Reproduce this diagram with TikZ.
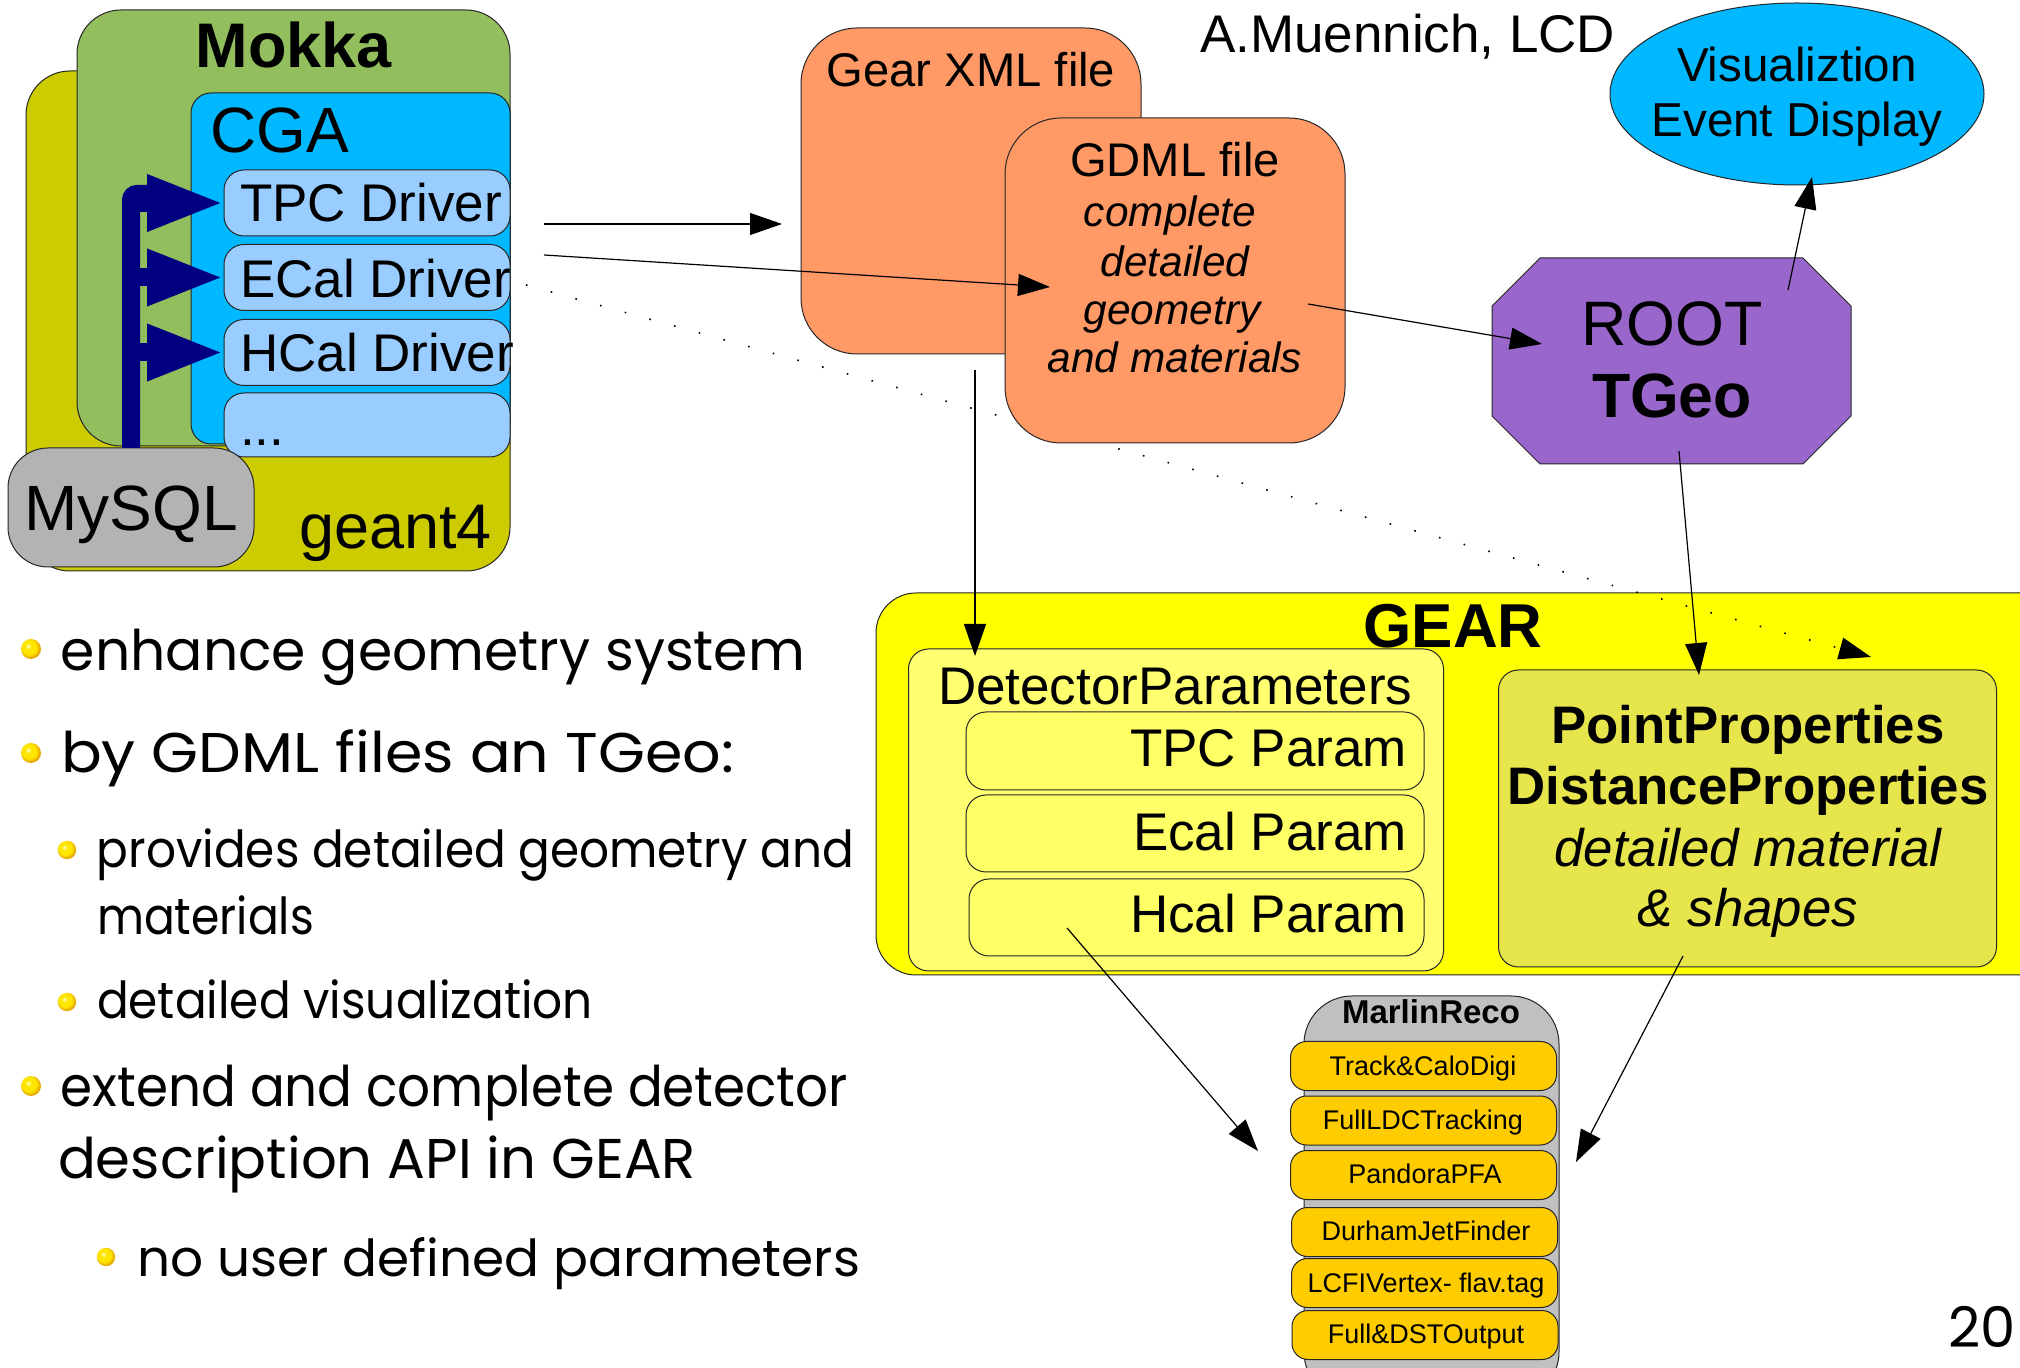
\documentclass[tikz,border=0pt]{standalone}
\usepackage{graphicx}
\usepackage{fontspec}
\setmainfont{Liberation Sans}
\newfontfamily\comic{Poppins}
\usetikzlibrary{arrows.meta,shapes.geometric}
\definecolor{olivefour}{RGB}{204,204,0}
\definecolor{mokkagreen}{RGB}{146,190,94}
\definecolor{skyb}{RGB}{0,184,255}
\definecolor{drvblue}{RGB}{153,204,255}
\definecolor{mysqlgray}{RGB}{179,179,179}
\definecolor{orangebox}{RGB}{255,153,102}
\definecolor{rootpurple}{RGB}{153,102,204}
\definecolor{gearyellow}{RGB}{255,255,0}
\definecolor{detyellow}{RGB}{255,255,112}
\definecolor{paramyellow}{RGB}{255,255,102}
\definecolor{propyellow}{RGB}{230,230,76}
\definecolor{marlingray}{RGB}{192,192,192}
\definecolor{marlinyellow}{RGB}{255,204,0}
\definecolor{navyb}{RGB}{0,0,128}
\definecolor{ballhi}{RGB}{255,255,200}
\definecolor{ballmid}{RGB}{255,230,0}
\definecolor{balllow}{RGB}{230,170,0}
\definecolor{balledge}{RGB}{170,110,0}
\pgfdeclareradialshading{goldball}{\pgfpoint{-8bp}{8bp}}{color(0bp)=(ballhi); color(8bp)=(ballmid); color(18bp)=(ballmid); color(26bp)=(balllow); color(50bp)=(balledge)}
\newcommand{\fsz}[2]{\fontsize{#1}{#2}\selectfont}
\newcommand{\fitw}[2]{\resizebox{#1}{\height}{#2}}
\tikzset{
  box/.style={draw=black!85, line width=0.5pt, inner sep=0pt, outer sep=0pt},
  txt/.style={inner sep=0pt, outer sep=0pt, anchor=base},
  conn/.style={draw=black, line width=0.6pt, -{Triangle[length=16pt,width=11pt]}},
  navyarrow/.style={draw=navyb, line width=9pt, -{Triangle[length=38.5pt,width=26pt]}},
  dotline/.style={draw=black, line width=0.8pt, dash pattern=on 0.8pt off 12pt, -{Triangle[length=16pt,width=11pt]}},
  marlinbox/.style={box, fill=marlinyellow, rounded corners=8pt, minimum width=133pt, minimum height=24.5pt},
  marlintxt/.style={txt, font=\fsz{13.5}{16}},
  bul/.style={shading=goldball},
  btxt/.style={inner sep=0pt, outer sep=0pt, anchor=base west, font=\comic\fsz{28}{32}},
  bsub/.style={inner sep=0pt, outer sep=0pt, anchor=base west, font=\comic\fsz{25.5}{30}}
}
\begin{document}
\begin{tikzpicture}[x=0.5pt,y=-0.5pt]
\useasboundingbox (0,0) rectangle (2020,1368);
\fill[white] (0,0) rectangle (2020,1368);
\clip (0,0) rectangle (2020,1368);

% ---------------- Mokka / geant4 block ----------------
\node[box, fill=olivefour, rounded corners=22pt, minimum width=242pt, minimum height=250pt] (geant) at (268,321) {};
\node[box, fill=mokkagreen, rounded corners=22pt, minimum width=216.5pt, minimum height=218pt] (mokka) at (293.5,228) {};
\node[txt, font=\bfseries\fsz{31.5}{36}] (mokkat) at (294,68) {Mokka};
\node[box, fill=skyb, rounded corners=10pt, minimum width=159.5pt, minimum height=175.5pt] (cga) at (350.5,268.5) {};
\node[txt, anchor=base west, font=\fsz{32}{36}] (cgat) at (210,153) {CGA};
\node[box, fill=drvblue, rounded corners=10pt, minimum width=143pt, minimum height=33pt] (tpc) at (367,203) {};
\node[box, fill=drvblue, rounded corners=10pt, minimum width=143pt, minimum height=33pt] (ecal) at (367,277.5) {};
\node[box, fill=drvblue, rounded corners=10pt, minimum width=143pt, minimum height=33pt] (hcal) at (367,352.5) {};
\node[box, fill=drvblue, rounded corners=10pt, minimum width=143pt, minimum height=32pt] (more) at (367,425) {};
\node[txt, anchor=base west, font=\fsz{26.5}{30}] (tpct) at (240,222) {TPC Driver};
\node[txt, anchor=base west, font=\fsz{26.5}{30}] (ecalt) at (240,298) {ECal Driver};
\node[txt, anchor=base west, font=\fsz{26.5}{30}] (hcalt) at (240,372) {HCal Driver};
\node[txt, anchor=base west, font=\fsz{26.5}{30}] (moret) at (240,446) {...};
\node[txt, anchor=base east, font=\fsz{31.5}{36}] (geantt) at (492,549) {geant4};
\node[box, fill=mysqlgray, rounded corners=20pt, minimum width=123pt, minimum height=59.5pt] (mysql) at (131,507.5) {};
\node[txt, font=\fsz{32}{36}] (mysqlt) at (131,531) {MySQL};

% navy arrows from MySQL to the drivers
\coordinate (bartop) at (131,203);
\draw[draw=navyb, line width=9pt, rounded corners=3pt] (mysql.north -| bartop) -- ([yshift=4.5pt]bartop) -- ([xshift=12pt, yshift=4.5pt]bartop);
\draw[navyarrow] (bartop) -- (tpc.west);
\draw[navyarrow] (bartop |- ecal.west) -- (ecal.west);
\draw[navyarrow] (bartop |- hcal.west) -- (hcal.west);

% ---------------- GEAR ----------------
\node[box, fill=gearyellow, rounded corners=20pt, minimum width=592pt, minimum height=191pt] (gear) at (1468,784) {};
\node[txt, font=\bfseries\fsz{31}{36}] (geart) at (1453,648) {GEAR};
\node[box, fill=detyellow, rounded corners=10pt, minimum width=267.5pt, minimum height=161pt] (det) at (1176,810) {};
\node[txt, anchor=base west, font=\fsz{26.5}{30}] (dett) at (938,705) {DetectorParameters};
\node[box, fill=paramyellow, rounded corners=10pt, minimum width=229pt, minimum height=39pt] (tpcp) at (1195,751) {};
\node[box, fill=paramyellow, rounded corners=10pt, minimum width=229pt, minimum height=38.5pt] (ecalp) at (1195,833.5) {};
\node[box, fill=paramyellow, rounded corners=10pt, minimum width=227.5pt, minimum height=38.5pt] (hcalp) at (1196.5,917.5) {};
\node[txt, anchor=base east, font=\fsz{26.5}{30}] (tpcpt) at (1407,767) {TPC Param};
\node[txt, anchor=base east, font=\fsz{26.5}{30}] (ecalpt) at (1407,851) {Ecal Param};
\node[txt, anchor=base east, font=\fsz{26.5}{30}] (hcalpt) at (1407,933) {Hcal Param};

\node[box, fill=propyellow, rounded corners=10pt, minimum width=249pt, minimum height=148.5pt] (prop) at (1747.5,818.5) {};
\node[txt, font=\bfseries\fsz{26.4}{30}] (prop1) at (1748,744) {PointProperties};
\node[txt, font=\bfseries\fsz{26.4}{30}] (prop2) at (1748,805) {DistanceProperties};
\node[txt, font=\itshape\fsz{26.4}{30}] (prop3) at (1748,867) {detailed material};
\node[txt, font=\itshape\fsz{26.4}{30}] (prop4) at (1748,927) {\& shapes};

% dotted connector (runs behind the GDML box)
\coordinate (g1) at (526,285);   \coordinate (g2) at (1871,657);
\draw[dotline] (g1) -- (g2);

% ---------------- Gear XML / GDML ----------------
\node[box, fill=orangebox, rounded corners=28pt, minimum width=170pt, minimum height=163pt] (gearxml) at (971,191) {};
\node[txt, font=\fsz{23.6}{28}] (gearxmlt) at (971,87) {Gear XML file};
\node[box, fill=orangebox, rounded corners=28pt, minimum width=170pt, minimum height=162.5pt] (gdml) at (1175,280.5) {};
\node[txt, font=\fsz{23.6}{28}] (gdml1) at (1175,177) {GDML file};
\node[txt, font=\itshape\fsz{21.2}{25}] (gdml2) at (1170,227) {complete};
\node[txt, font=\itshape\fsz{21.2}{25}] (gdml3) at (1175,277) { detailed};
\node[txt, font=\itshape\fsz{21.2}{25}] (gdml4) at (1172,325) {geometry};
\node[txt, font=\itshape\fsz{21.2}{25}] (gdml5) at (1175,373) {and materials};

\node[txt, anchor=base west, font=\fsz{26.5}{30}] (author) at (1200,53) {A.Muennich, LCD};

% ---------------- Visualization / ROOT ----------------
\node[draw=black!85, line width=0.5pt, fill=skyb, ellipse, inner sep=0pt, minimum width=187pt, minimum height=91pt] (vis) at (1797,94) {};
\node[txt, font=\fsz{23.8}{28}] (vis1) at (1797,82) {Visualiztion};
\node[txt, font=\fsz{23.8}{28}] (vis2) at (1797,137) {Event Display};

\node[inner sep=0pt, minimum width=179.5pt, minimum height=103pt] (root) at (1671.5,361) {};
\draw[draw=black!85, line width=0.5pt, fill=rootpurple] (1540,258) -- (1803,258) -- (1851,306) -- (1851,416) -- (1803,464) -- (1540,464) -- (1492,416) -- (1492,306) -- cycle;
\node[txt, font=\fsz{31.4}{36}] (root1) at (1672,346) {ROOT};
\node[txt, font=\bfseries\fsz{31.3}{36}] (root2) at (1672,418) {TGeo};

% ---------------- MarlinReco ----------------
\node[box, fill=marlingray, rounded corners=24pt, minimum width=127.5pt, minimum height=202pt] (marlin) at (1431.5,1198) {};
\node[txt, font=\bfseries\fsz{16.5}{20}] (marlint) at (1431,1023) {MarlinReco};
\node[marlinbox] (m1) at (1423.5,1066) {};
\node[marlinbox] (m2) at (1423.5,1120.5) {};
\node[marlinbox] (m3) at (1423.5,1175) {};
\node[marlinbox] (m4) at (1424.5,1232) {};
\node[marlinbox] (m5) at (1424.5,1283) {};
\node[marlinbox] (m6) at (1425,1335) {};
\node[marlintxt] (m1t) at (1423,1075) {Track\&CaloDigi};
\node[marlintxt] (m2t) at (1423,1130) {FullLDCTracking};
\node[marlintxt] (m3t) at (1425,1183) {PandoraPFA};
\node[marlintxt] (m4t) at (1426,1240) {DurhamJetFinder};
\node[marlintxt] (m5t) at (1426,1292) {LCFIVertex- flav.tag};
\node[marlintxt] (m6t) at (1426,1343) {Full\&DSTOutput};

% ---------------- connectors ----------------
\coordinate (a1) at (544,224);   \coordinate (a2) at (782,224);
\coordinate (b1) at (544,255);   \coordinate (b2) at (1050,287);
\coordinate (c1) at (1308,304);  \coordinate (c2) at (1542,344);
\coordinate (d1) at (1788,290);  \coordinate (d2) at (1812,177);
\coordinate (e1) at (975,370);   \coordinate (e2) at (975,656);
\coordinate (f1) at (1679,451);  \coordinate (f2) at (1699,675);
\coordinate (h1) at (1067,928);  \coordinate (h2) at (1258,1151);
\coordinate (i1) at (1683,956);  \coordinate (i2) at (1576,1162);
\draw[conn] (a1) -- (a2);
\draw[conn] (b1) -- (b2);
\draw[conn] (c1) -- (c2);
\draw[conn] (d1) -- (d2);
\draw[conn] (e1) -- (e2);
\draw[conn] (f1) -- (f2);
\draw[conn] (h1) -- (h2);
\draw[conn] (i1) -- (i2);

% ---------------- bullets ----------------
\shade[bul] (31,649) circle (5pt);
\shade[bul] (31,753) circle (5pt);
\shade[bul] (67,850) circle (4.6pt);
\shade[bul] (67,1002) circle (4.6pt);
\shade[bul] (31,1086) circle (5pt);
\shade[bul] (106,1257) circle (4.6pt);
\node[btxt] (l1) at (61,671) {\fitw{372pt}{enhance geometry system}};
\node[btxt] (l2) at (61,773) {\fitw{336.5pt}{by GDML files an TGeo:}};
\node[bsub] (l3) at (97,868) {\fitw{378.5pt}{provides detailed geometry and}};
\node[bsub] (l4) at (97,935) {\fitw{108.5pt}{materials}};
\node[bsub] (l5) at (97,1019) {\fitw{248pt}{detailed visualization}};
\node[btxt] (l6) at (61,1106) {\fitw{393.5pt}{extend and complete detector}};
\node[btxt] (l7) at (58,1178) {\fitw{319pt}{description API in GEAR}};
\node[bsub] (l8) at (137,1276) {\fitw{361.5pt}{no user defined parameters}};
\node[inner sep=0pt, anchor=base east, font=\comic\fsz{28}{32}] (pagenum) at (2016,1347) {20};
\end{tikzpicture}
\end{document}
